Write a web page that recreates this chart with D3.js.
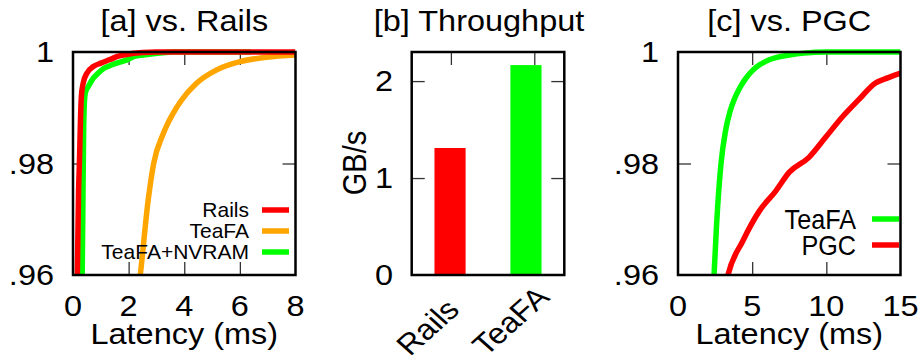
<!DOCTYPE html>
<html>
<head>
<meta charset="utf-8">
<script src="https://cdn.jsdelivr.net/npm/d3@7"></script>
<style>
  html, body { margin: 0; padding: 0; background: #fff; }
  svg { display: block; font-family: "Liberation Sans", Arial, sans-serif; }
</style>
</head>
<body>
<svg id="chart" width="922" height="362"></svg>
<script>
// ---- data ----
// panel a: latency CDF, [latency ms, cumulative fraction]
var railsCdf = [[0.12, 0.955], [0.155, 0.96], [0.2, 0.975], [0.23, 0.98], [0.27, 0.988], [0.3, 0.992],
  [0.37, 0.9945], [0.5, 0.9962], [0.73, 0.9974], [1.0, 0.998], [1.33, 0.99865], [1.6, 0.9992],
  [1.92, 0.99955], [2.5, 0.9999], [3.0, 1.0], [8.0, 1.0]];
var teafaCdf = [[2.35, 0.957], [2.42, 0.96], [2.7, 0.9733], [2.9, 0.98], [3.24, 0.9853], [3.6, 0.989],
  [3.9, 0.99135], [4.43, 0.99436], [5.15, 0.99676], [6.0, 0.99826], [6.94, 0.99905], [8.0, 0.99946]];
var nvramCdf = [[0.3, 0.955], [0.33, 0.96], [0.36, 0.975], [0.38, 0.985], [0.41, 0.991], [0.45, 0.9928],
  [0.55, 0.9938], [0.73, 0.9953], [0.9, 0.9962], [1.09, 0.997], [1.3, 0.9975], [1.57, 0.998],
  [1.92, 0.99855], [2.2, 0.9992], [2.52, 0.99945], [3.1, 0.9998], [3.6, 1.0], [6.4, 1.0]];

// panel b: throughput
var tputCategories = ["Rails", "TeaFA"];
var tputValues = [1.31, 2.165];

// panel c: vs. PGC
var teafaPgcCdf = [[2.38, 0.957], [2.43, 0.96], [2.6, 0.969], [2.9, 0.98], [3.2, 0.9858], [3.5, 0.9893],
  [3.81, 0.9916], [4.15, 0.9935], [4.5, 0.995], [4.82, 0.9961], [5.15, 0.997], [5.5, 0.9977],
  [6.15, 0.9986], [6.6, 0.999], [7.5, 0.99945], [8.5, 0.9998], [10, 1.0], [15, 1.0]];
var pgcCdf = [[3.2, 0.958], [3.37, 0.96], [4.37, 0.9661], [5.49, 0.9715], [6.6, 0.9751], [7.49, 0.9784],
  [8.83, 0.9811], [9.95, 0.9847], [11.06, 0.9883], [12.17, 0.9914], [13.29, 0.9944], [14.18, 0.9954],
  [14.76, 0.996], [15, 0.9962]];

// ticks
var cdfTicks = [0.96, 0.98, 1];
var cdfTickLabels = [".96", ".98", "1"];
var latTicksA = [0, 2, 4, 6, 8];
var latTicksC = [0, 5, 10, 15];
var tputTicks = [0, 1, 2];

// ---- look ----
var RED = "#ff0000", ORANGE = "#ffa500", GREEN = "#00ff00";
var FS = 29, SX = 1.12;     // reference text is a little wide
var TOP = 52, BOT = 275;

var svg = d3.select("#chart");

function label(g, x, y, str, opts) {
  opts = opts || {};
  var t = "translate(" + x + "," + y + ") scale(" + (opts.sx || SX) + ",1)";
  if (opts.rotate) { t += " rotate(" + opts.rotate + ")"; }
  return g.append("text")
    .attr("transform", t)
    .attr("text-anchor", opts.anchor || "middle")
    .attr("font-size", opts.size || FS)
    .attr("fill", "#000")
    .text(str);
}

// inward ticks on all four sides, domain lines replaced by a frame rect
function ticks(g, x, y, xv, yv) {
  var axes = [
    [d3.axisBottom(x).tickValues(xv), "translate(0," + y.range()[0] + ")"],
    [d3.axisTop(x).tickValues(xv), "translate(0," + y.range()[1] + ")"],
    [d3.axisLeft(y).tickValues(yv), "translate(" + x.range()[0] + ",0)"],
    [d3.axisRight(y).tickValues(yv), "translate(" + x.range()[1] + ",0)"]
  ];
  axes.forEach(function(a) {
    var ag = g.append("g").attr("transform", a[1])
      .call(a[0].tickSizeInner(-13).tickSizeOuter(0).tickFormat(""));
    ag.select(".domain").remove();
    ag.selectAll("line").attr("stroke", "#333").attr("stroke-width", 1.3);
  });
}

function frame(g, x, y) {
  g.append("rect")
    .attr("x", x.range()[0]).attr("y", y.range()[1])
    .attr("width", x.range()[1] - x.range()[0])
    .attr("height", y.range()[0] - y.range()[1])
    .attr("fill", "none").attr("stroke", "#000").attr("stroke-width", 2.5);
}

function cdfPanel(id, x, title, series, latTicks, legend) {
  var g = svg.append("g").attr("id", id);
  var y = d3.scaleLinear().domain([0.96, 1]).range([BOT, TOP]);
  var x0 = x.range()[0], x1 = x.range()[1];
  var mid = (x0 + x1) / 2;

  ticks(g, x, y, latTicks.slice(1, -1), [0.98]);

  g.append("clipPath").attr("id", id + "-clip")
    .append("rect").attr("x", x0).attr("y", TOP - 5)
    .attr("width", x1 - x0).attr("height", BOT - TOP + 5);

  var line = d3.line()
    .x(function(d) { return x(d[0]); })
    .y(function(d) { return y(d[1]); })
    .curve(d3.curveMonotoneX);
  g.append("g").attr("clip-path", "url(#" + id + "-clip)")
    .selectAll("path").data(series).join("path")
    .attr("d", function(s) { return line(s.values); })
    .attr("fill", "none")
    .attr("stroke", function(s) { return s.color; })
    .attr("stroke-width", 5.5)
    .attr("stroke-linejoin", "round");

  frame(g, x, y);

  // legend
  var lg = g.append("g");
  legend.items.forEach(function(s, i) {
    var ly = legend.y + i * legend.step;
    label(lg, legend.textX, ly + legend.size * 0.34, s.name, { anchor: "end", size: legend.size, sx: legend.sx });
    lg.append("line")
      .attr("x1", legend.x1).attr("x2", legend.x2).attr("y1", ly).attr("y2", ly)
      .attr("stroke", s.color).attr("stroke-width", 5.5);
  });

  // tick labels and titles
  cdfTicks.forEach(function(v, i) {
    label(g, x0 - 19, y(v) + 10, cdfTickLabels[i], { anchor: "end" });
  });
  latTicks.forEach(function(v) {
    label(g, x(v), 316, String(v));
  });
  label(g, mid, 344, "Latency (ms)");
  label(g, mid, 31, title);
}

// ---- panel a ----
var xa = d3.scaleLinear().domain([0, 8]).range([73, 295.5]);
cdfPanel("pa", xa, "[a] vs. Rails", [
  { name: "TeaFA", values: teafaCdf, color: ORANGE },
  { name: "TeaFA+NVRAM", values: nvramCdf, color: GREEN },
  { name: "Rails", values: railsCdf, color: RED }
], latTicksA, {
  items: [{ name: "Rails", color: RED }, { name: "TeaFA", color: ORANGE }, { name: "TeaFA+NVRAM", color: GREEN }],
  y: 210, step: 21, size: 21, sx: 1.0, textX: 249, x1: 262, x2: 289
});

// ---- panel c ----
var xc = d3.scaleLinear().domain([0, 15]).range([678, 900.5]);
cdfPanel("pc", xc, "[c] vs. PGC", [
  { name: "PGC", values: pgcCdf, color: RED },
  { name: "TeaFA", values: teafaPgcCdf, color: GREEN }
], latTicksC, {
  items: [{ name: "TeaFA", color: GREEN }, { name: "PGC", color: RED }],
  y: 219, step: 26, size: 28, sx: 0.9, textX: 856, x1: 872, x2: 899
});

// ---- panel b ----
(function() {
  var g = svg.append("g").attr("id", "pb");
  var x0 = 411.7, x1 = 564.3;
  var y = d3.scaleLinear().domain([0, 2.3]).range([BOT, TOP]);
  var xt = d3.scaleLinear().domain([-0.47, 1.36]).range([x0, x1]);   // tick positions
  var xb = d3.scaleBand().domain(tputCategories).range([x0, x1])
    .paddingInner(0.59).paddingOuter(0.3);

  ticks(g, xt, y, d3.range(tputCategories.length), tputTicks.slice(1));

  g.selectAll("rect.bar").data(tputValues).join("rect")
    .attr("class", "bar")
    .attr("x", function(d, i) { return xb(tputCategories[i]); })
    .attr("width", xb.bandwidth())
    .attr("y", function(d) { return y(d); })
    .attr("height", function(d) { return y(0) - y(d); })
    .attr("fill", function(d, i) { return i === 0 ? RED : GREEN; });

  frame(g, xt, y);

  tputTicks.forEach(function(v) {
    label(g, 393, y(v) + 10, String(v), { anchor: "end" });
  });
  // rotated category names start below-left of their bar
  tputCategories.forEach(function(c) {
    label(g, xb(c) + xb.bandwidth() / 2 - 40, 357, c, { anchor: "start", rotate: -45 });
  });
  label(g, 366, 163, "GB/s", { rotate: -90 });
  label(g, 479, 31, "[b] Throughput");
})();
</script>
</body>
</html>
